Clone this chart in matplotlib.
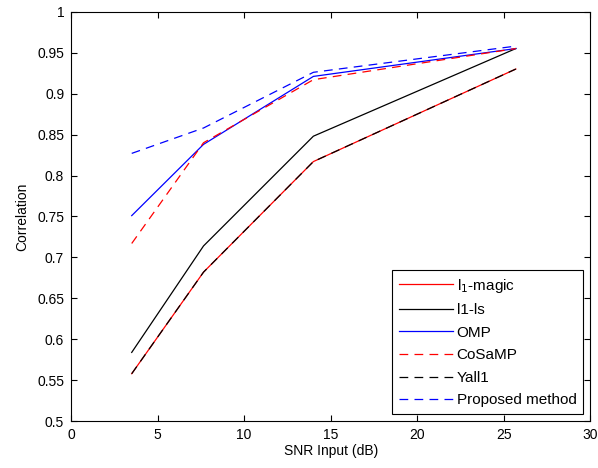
import matplotlib.pyplot as plt

plt.rcParams['font.family'] = ['Liberation Sans', 'DejaVu Sans']

snr = [3.5, 7.65, 14.0, 25.7]
l1_magic = [0.558, 0.682, 0.817, 0.930]
l1_ls = [0.584, 0.714, 0.848, 0.955]
omp = [0.751, 0.838, 0.921, 0.955]
cosamp = [0.717, 0.840, 0.917, 0.955]
yall1 = [0.558, 0.682, 0.817, 0.930]
proposed = [0.827, 0.858, 0.926, 0.958]

fig = plt.figure(figsize=(5.98, 4.68), dpi=100)
ax = fig.add_axes([0.119, 0.100, 0.868, 0.875])

lw = 0.9
dash = (7, 5)
ax.plot(snr, l1_magic, color='red', lw=lw, label=r'l$_1$-magic')
ax.plot(snr, l1_ls, color='black', lw=lw, label='l1-ls')
ax.plot(snr, omp, color='blue', lw=lw, label='OMP')
ax.plot(snr, cosamp, color='red', lw=lw, dashes=dash, label='CoSaMP')
ax.plot(snr, yall1, color='black', lw=lw, dashes=dash, label='Yall1')
ax.plot(snr, proposed, color='blue', lw=lw, dashes=dash, label='Proposed method')

ax.set_xlim(0, 30)
ax.set_ylim(0.5, 1)
ax.set_xticks(range(0, 31, 5))
ax.set_yticks([0.5, 0.55, 0.6, 0.65, 0.7, 0.75, 0.8, 0.85, 0.9, 0.95, 1])
ax.set_yticklabels(['0.5', '0.55', '0.6', '0.65', '0.7', '0.75', '0.8', '0.85', '0.9', '0.95', '1'])
ax.tick_params(direction='in', top=True, right=True, labelsize=10, length=4, pad=5)
ax.set_xlabel('SNR Input (dB)', fontsize=10, labelpad=1)
ax.set_ylabel('Correlation', fontsize=10, labelpad=6)

leg = ax.legend(loc='lower right', fontsize=11, fancybox=False, framealpha=1,
                edgecolor='black', borderaxespad=0.45, handlelength=3.5,
                handletextpad=0.25, labelspacing=0.56, borderpad=0.45)
leg.get_frame().set_linewidth(0.8)

plt.savefig('out.png', dpi=100)
